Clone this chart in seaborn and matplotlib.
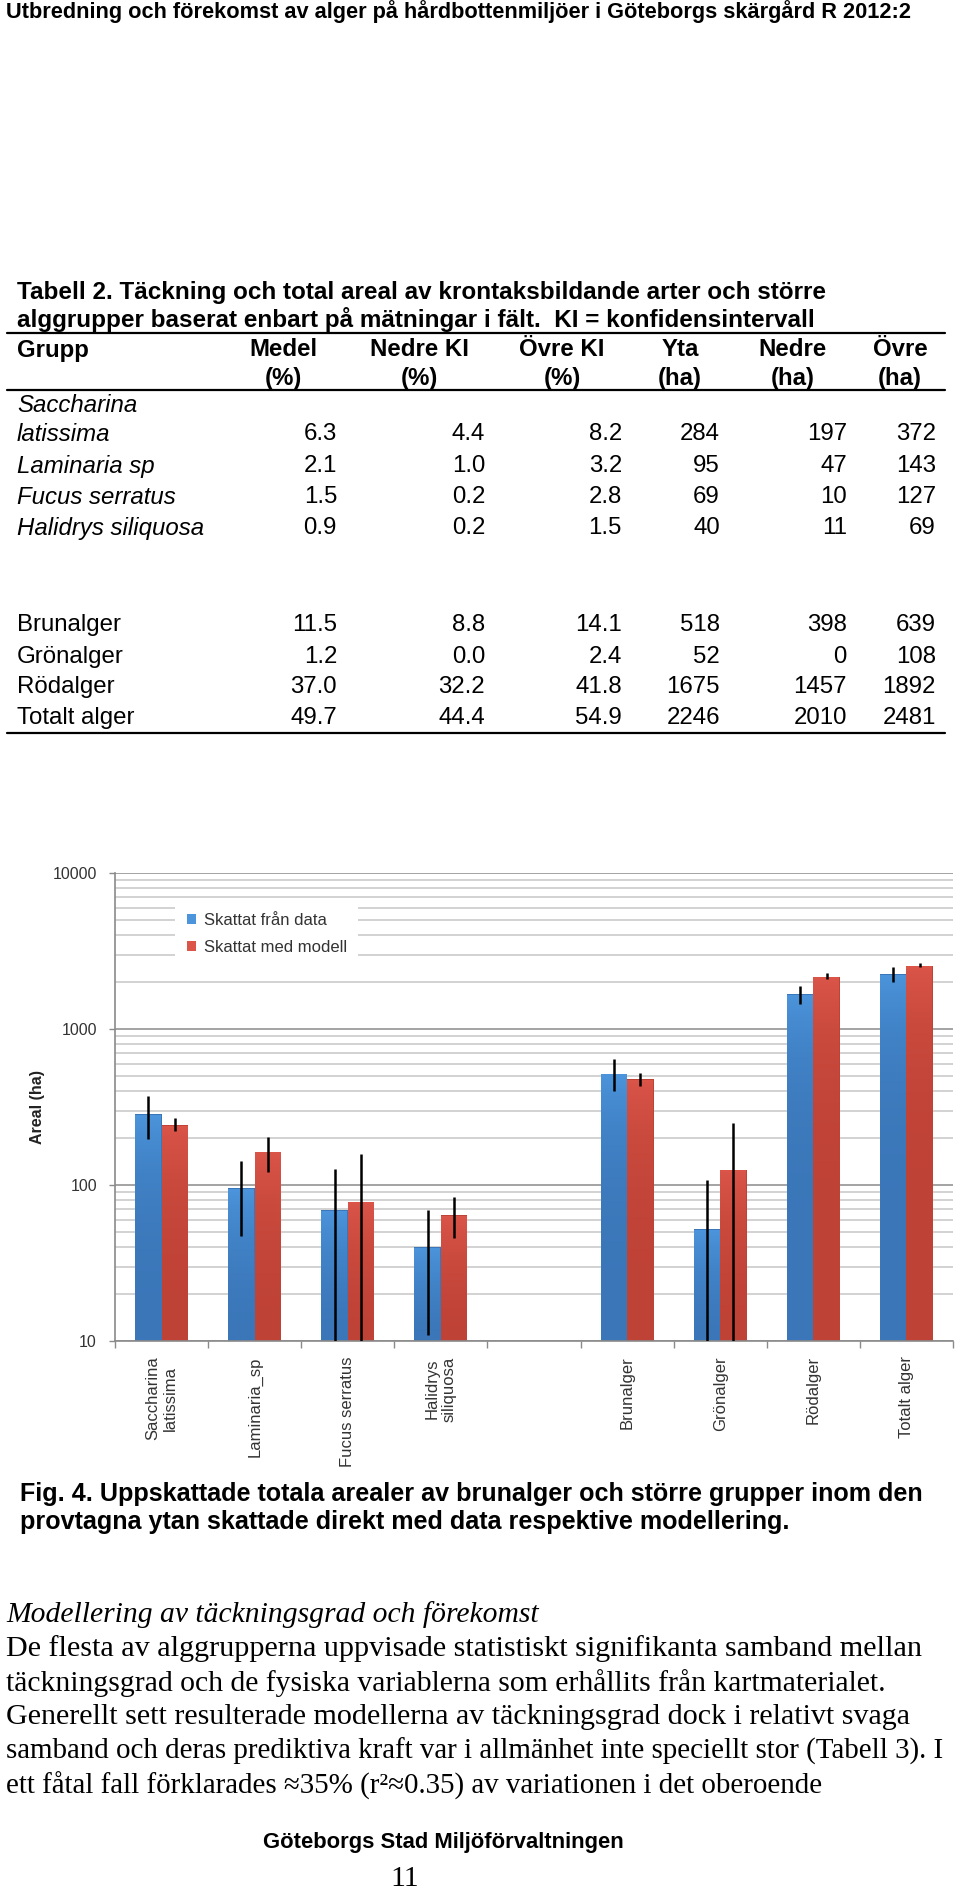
import numpy as np
import pandas as pd
import matplotlib
matplotlib.use("Agg")
import matplotlib.pyplot as plt
from matplotlib.colors import LinearSegmentedColormap
import seaborn as sns

# page texts
header = "Utbredning och förekomst av alger på hårdbottenmiljöer i Göteborgs skärgård R 2012:2"
table_caption = [
    "Tabell 2. Täckning och total areal av krontaksbildande arter och större",
    "alggrupper baserat enbart på mätningar i fält.  KI = konfidensintervall",
]
table_head = ["Grupp", "Medel", "Nedre KI", "Övre KI", "Yta", "Nedre", "Övre"]
table_unit = ["", "(%)", "(%)", "(%)", "(ha)", "(ha)", "(ha)"]

# table values
table_names = ["Saccharina\nlatissima", "Laminaria sp", "Fucus serratus", "Halidrys siliquosa",
               "Brunalger", "Grönalger", "Rödalger", "Totalt alger"]
medel = [6.3, 2.1, 1.5, 0.9, 11.5, 1.2, 37.0, 49.7]
nedre_ki = [4.4, 1.0, 0.2, 0.2, 8.8, 0.0, 32.2, 44.4]
ovre_ki = [8.2, 3.2, 2.8, 1.5, 14.1, 2.4, 41.8, 54.9]
yta = [284, 95, 69, 40, 518, 52, 1675, 2246]
nedre_ha = [197, 47, 10, 11, 398, 0, 1457, 2010]
ovre_ha = [372, 143, 127, 69, 639, 108, 1892, 2481]

# chart values (blue = yta from the table, red = model)
chart_groups = ["Saccharina\nlatissima", "Laminaria_sp", "Fucus serratus", "Halidrys\nsiliquosa",
                "Brunalger", "Grönalger", "Rödalger", "Totalt alger"]
chart_order = chart_groups[:4] + [" "] + chart_groups[4:]
modell = [242, 163, 78, 64, 478, 125, 2156, 2535]
modell_lo = [222, 121, 8, 46, 431, 5, 2092, 2500]
modell_hi = [269, 203, 158, 84, 522, 250, 2285, 2650]
series = ["Skattat från data", "Skattat med modell"]
colors = {"Skattat från data": ("#4c95dc", "#3a76b8"), "Skattat med modell": ("#db5549", "#bf4236")}

fig_caption = [
    "Fig. 4. Uppskattade totala arealer av brunalger och större grupper inom den",
    "provtagna ytan skattade direkt med data respektive modellering.",
]
body_title = "Modellering av täckningsgrad och förekomst"
body = [
    "De flesta av alggrupperna uppvisade statistiskt signifikanta samband mellan",
    "täckningsgrad och de fysiska variablerna som erhållits från kartmaterialet.",
    "Generellt sett resulterade modellerna av täckningsgrad dock i relativt svaga",
    "samband och deras prediktiva kraft var i allmänhet inte speciellt stor (Tabell 3). I",
    "ett fåtal fall förklarades ≈35% (r²≈0.35) av variationen i det oberoende",
]
footer = "Göteborgs Stad Miljöförvaltningen"
page_no = "11"

sns.set_theme(style="white")
plt.rcParams["font.family"] = ["Liberation Sans", "DejaVu Sans"]

W, H = 960, 1892
fig = plt.figure(figsize=(W / 100, H / 100), dpi=100)
renderer = fig.canvas.get_renderer()

SANS = ["Liberation Sans", "DejaVu Sans"]
SERIF = ["Liberation Serif", "DejaVu Serif"]


def txt(x, y, s, **kw):
    kw.setdefault("va", "center")
    kw.setdefault("color", "black")
    return fig.text(x / W, 1 - y / H, s, **kw)


def fit_size(s, width, **kw):
    t = fig.text(0, 0, s, fontsize=10, **kw)
    w = t.get_window_extent(renderer).width
    t.remove()
    return 10 * width / w


# header
hs = fit_size(header, 907, family=SANS, weight="bold")
txt(6, 12, header, family=SANS, weight="bold", fontsize=hs)

# table
cs = fit_size(table_caption[0], 806, family=SANS, weight="bold")
txt(17, 293, table_caption[0], family=SANS, weight="bold", fontsize=cs)
txt(17, 319, table_caption[1], family=SANS, weight="bold", fontsize=cs)

for y in [333, 390, 733]:
    fig.add_artist(plt.Line2D([7 / W, 945 / W], [1 - y / H] * 2, color="black", lw=1.6))

head_x = [17, 283, 419, 562, 680, 793, 900]
col_right = [337, 485, 622, 720, 847, 936]
ts = 17.3
for i, (h, u) in enumerate(zip(table_head, table_unit)):
    ha = "left" if i == 0 else "center"
    txt(head_x[i], 350, h, family=SANS, weight="bold", fontsize=ts, ha=ha)
    if u:
        txt(head_x[i], 378, u, family=SANS, weight="bold", fontsize=ts, ha=ha)

row_y = [434, 466, 497, 528, 625, 657, 687, 718]
for i, name in enumerate(table_names):
    style = "italic" if i < 4 else "normal"
    if "\n" in name:
        first, second = name.split("\n")
        txt(17, row_y[i] - 28, first, family=SANS, style=style, fontsize=ts)
        txt(17, row_y[i], second, family=SANS, style=style, fontsize=ts)
    else:
        txt(17, row_y[i], name, family=SANS, style=style, fontsize=ts)
    vals = [f"{medel[i]:.1f}", f"{nedre_ki[i]:.1f}", f"{ovre_ki[i]:.1f}",
            f"{yta[i]}", f"{nedre_ha[i]}", f"{ovre_ha[i]}"]
    for xr, v in zip(col_right, vals):
        txt(xr, row_y[i], v, family=SANS, fontsize=ts, ha="right")

# chart
df = pd.DataFrame({
    "grupp": chart_groups * 2,
    "serie": [series[0]] * len(chart_groups) + [series[1]] * len(chart_groups),
    "areal": yta + modell,
})
ax = fig.add_axes([115 / W, 1 - 1341 / H, 838 / W, 468 / H])
bar_w = 0.57
sns.barplot(data=df, x="grupp", y="areal", hue="serie", order=chart_order, hue_order=series,
            palette=[colors[s][1] for s in series], width=bar_w, errorbar=None, saturation=1,
            linewidth=0, ax=ax)
ax.set_yscale("log")
ax.set_ylim(10, 10000)
ax.set_xlim(-0.5, len(chart_order) - 0.5)

# excel-like shading: lighter at the top of each bar
grad = np.linspace(1, 0, 64).reshape(-1, 1)
for cont, s in zip(ax.containers, series):
    cmap = LinearSegmentedColormap.from_list(s, [colors[s][1], colors[s][0]])
    for bar in cont:
        x0, h = bar.get_x(), bar.get_height()
        if not np.isfinite(h) or h <= 0:
            continue
        im = ax.imshow(grad, cmap=cmap, aspect="auto", origin="upper",
                       extent=[x0, x0 + bar.get_width(), 10, h], zorder=bar.get_zorder(),
                       interpolation="bilinear")
        im.set_clip_path(bar)
ax.set_ylim(10, 10000)
ax.set_xlim(-0.5, len(chart_order) - 0.5)
ax.set_aspect("auto")

# confidence intervals as black lines
pos = [chart_order.index(g) for g in chart_groups]
for off, lo, hi in [(-bar_w / 4, nedre_ha, ovre_ha), (bar_w / 4, modell_lo, modell_hi)]:
    ax.vlines(np.array(pos) + off, np.clip(lo, 10, None), hi, color="black", lw=1.8, zorder=5)

ax.set_yticks([10, 100, 1000, 10000])
ax.yaxis.set_major_formatter(plt.FuncFormatter(lambda v, p: f"{v:.0f}"))
ax.yaxis.set_minor_formatter(plt.NullFormatter())
ax.grid(False)
ax.grid(which="major", axis="y", color="#9c9c9c", lw=1.3)
ax.grid(which="minor", axis="y", color="#c6c6c6", lw=1.1)
ax.set_axisbelow(True)
ax.tick_params(axis="y", which="major", left=True, length=4, width=1, color="#8a8a8a",
               labelsize=11.5, labelcolor="#333333", pad=9)
ax.tick_params(axis="y", which="minor", left=False)

ax.set_xticks(range(len(chart_order)))
ax.set_xticklabels([g if g.strip() else "" for g in chart_order], rotation=90,
                   fontsize=12, color="#333333")
ax.set_xticks(np.arange(-0.5, len(chart_order), 1), minor=True)
ax.tick_params(axis="x", which="major", length=0, pad=11)
ax.tick_params(axis="x", which="minor", bottom=True, length=5, width=1, color="#8a8a8a")
ax.set_xlabel("")
ax.set_ylabel("Areal (ha)", fontsize=11.5, fontweight="bold", color="#222222")
ax.yaxis.set_label_coords(-0.0835, 0.5)
for s in ["top", "right"]:
    ax.spines[s].set_visible(False)
for s in ["left", "bottom"]:
    ax.spines[s].set_color("#8a8a8a")
    ax.spines[s].set_linewidth(1.2)

leg = ax.legend(loc="upper left", bbox_to_anchor=(0.062, 0.958), frameon=True, facecolor="white",
                edgecolor="none", framealpha=1, fancybox=False, fontsize=12, handlelength=0.55,
                handleheight=0.55, handletextpad=0.45, labelspacing=0.72, borderpad=0.7,
                labelcolor="#333333")
for patch, s in zip(leg.get_patches(), series):
    patch.set_facecolor(colors[s][0])

# figure caption
fs = fit_size(fig_caption[0], 906, family=SANS, weight="bold")
txt(20, 1494, fig_caption[0], family=SANS, weight="bold", fontsize=fs)
txt(20, 1522, fig_caption[1], family=SANS, weight="bold", fontsize=fs)

# body text, each line fitted to its width on the page
body_ends = [924, 886, 914, 945, 825]
sizes = []
for i, line in enumerate(body):
    s = fit_size(line, body_ends[i] - 6, family=SERIF)
    sizes.append(s)
    txt(6, 1649 + i * 34.2, line, family=SERIF, fontsize=s)
bs = float(np.median(sizes))
txt(6, 1615, body_title, family=SERIF, style="italic", fontsize=bs)

fts = fit_size(footer, 360, family=SANS, weight="bold")
txt(443, 1842, footer, family=SANS, weight="bold", fontsize=fts, ha="center")
txt(405, 1879, page_no, family=SERIF, fontsize=bs, ha="center")

fig.savefig("out.png", dpi=100)
